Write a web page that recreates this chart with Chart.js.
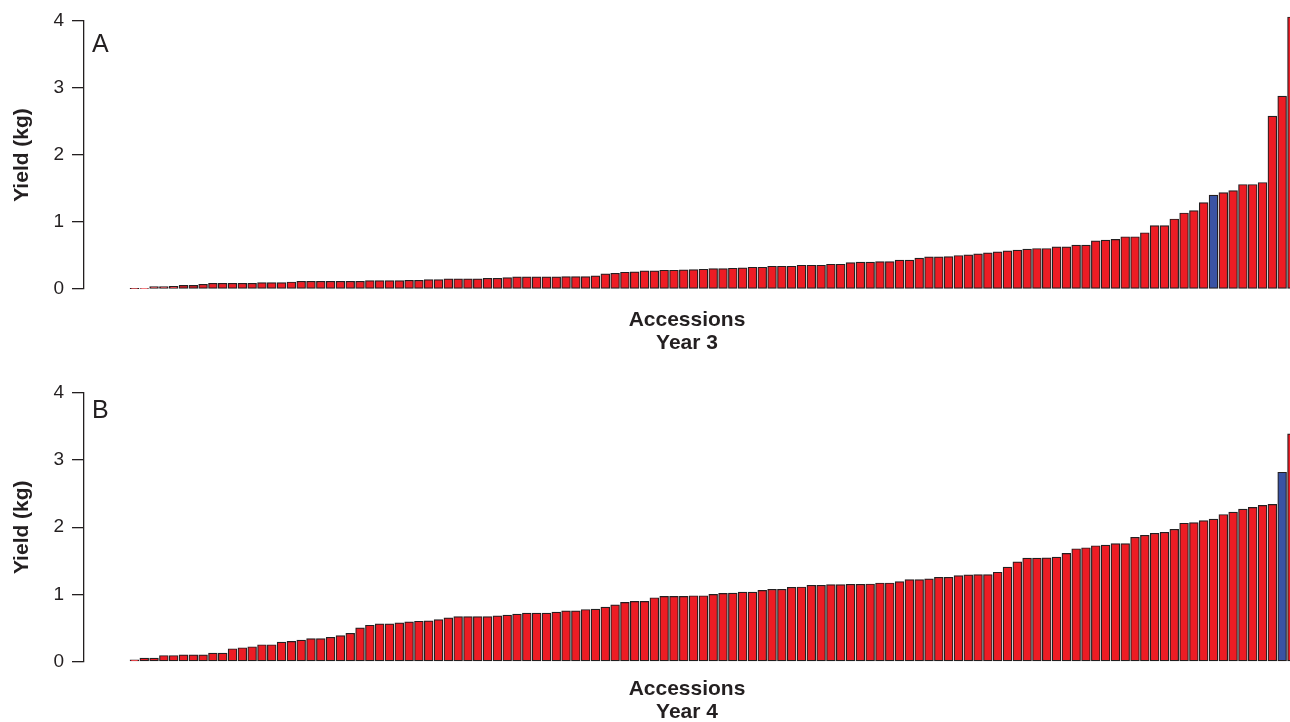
<!DOCTYPE html>
<html>
<head>
<meta charset="utf-8">
<script src="https://cdn.jsdelivr.net/npm/chart.js@4.4.1/dist/chart.umd.min.js"></script>
<style>
    html, body { margin: 0; padding: 0; background: #fff; overflow: hidden; }
    canvas { display: block; }
</style>
</head>
<body>
<canvas id="chartYear3" width="1290" height="361"></canvas>
<canvas id="chartYear4" width="1290" height="361"></canvas>
<script>
// Yield per accession, sorted ascending (kg)
const yieldYear3 = [
    0.005, 0.01, 0.035, 0.035, 0.04, 0.055, 0.055, 0.07, 0.085, 0.085,
    0.085, 0.085, 0.085, 0.095, 0.095, 0.095, 0.105, 0.115, 0.115, 0.115,
    0.115, 0.115, 0.115, 0.115, 0.125, 0.125, 0.125, 0.125, 0.13, 0.13,
    0.14, 0.14, 0.15, 0.15, 0.15, 0.15, 0.16, 0.16, 0.17, 0.18,
    0.18, 0.18, 0.18, 0.18, 0.185, 0.185, 0.185, 0.195, 0.225, 0.235,
    0.25, 0.255, 0.27, 0.27, 0.28, 0.28, 0.285, 0.29, 0.295, 0.305,
    0.305, 0.31, 0.315, 0.325, 0.325, 0.34, 0.34, 0.34, 0.355, 0.355,
    0.355, 0.37, 0.37, 0.395, 0.40, 0.40, 0.41, 0.41, 0.43, 0.43,
    0.46, 0.48, 0.48, 0.485, 0.50, 0.51, 0.525, 0.54, 0.555, 0.57,
    0.58, 0.595, 0.605, 0.605, 0.63, 0.63, 0.655, 0.655, 0.72, 0.73,
    0.74, 0.78, 0.78, 0.84, 0.945, 0.945, 1.045, 1.135, 1.17, 1.29,
    1.40, 1.44, 1.47, 1.56, 1.56, 1.59, 2.58, 2.88, 4.06
];
const yieldYear4 = [
    0.025, 0.05, 0.05, 0.09, 0.09, 0.10, 0.10, 0.10, 0.125, 0.125,
    0.19, 0.205, 0.22, 0.25, 0.25, 0.29, 0.30, 0.32, 0.34, 0.34,
    0.36, 0.385, 0.42, 0.50, 0.54, 0.56, 0.56, 0.575, 0.59, 0.60,
    0.605, 0.625, 0.65, 0.67, 0.67, 0.67, 0.67, 0.68, 0.69, 0.705,
    0.72, 0.72, 0.72, 0.735, 0.755, 0.755, 0.775, 0.78, 0.81, 0.845,
    0.88, 0.895, 0.895, 0.95, 0.97, 0.97, 0.97, 0.98, 0.98, 1.00,
    1.015, 1.02, 1.035, 1.035, 1.06, 1.075, 1.075, 1.105, 1.11, 1.135,
    1.135, 1.145, 1.145, 1.15, 1.15, 1.155, 1.17, 1.17, 1.19, 1.22,
    1.22, 1.23, 1.255, 1.255, 1.28, 1.29, 1.295, 1.295, 1.33, 1.405,
    1.485, 1.54, 1.54, 1.545, 1.555, 1.61, 1.68, 1.695, 1.725, 1.735,
    1.755, 1.755, 1.85, 1.88, 1.91, 1.925, 1.97, 2.06, 2.07, 2.10,
    2.12, 2.19, 2.225, 2.27, 2.295, 2.325, 2.34, 2.82, 3.39
];
// position of the highlighted (blue) accession in each year
const highlightYear3 = 110;
const highlightYear4 = 117;
const yTicks = [0, 1, 2, 3, 4];
const accessions = yieldYear3.map((v, i) => i);

const INK = '#231F20';
const RED = '#ED1C24';
const BLUE = '#3A53A4';
const FONT = '"Liberation Sans", Arial, Helvetica, sans-serif';

// Panel letter in the top left corner
const panelLabel = {
    id: 'panelLabel',
    afterDraw(chart, args, opts) {
        const ctx = chart.ctx;
        ctx.save();
        ctx.font = '25px ' + FONT;
        ctx.fillStyle = INK;
        ctx.textBaseline = 'alphabetic';
        ctx.fillText(opts.text, opts.x, opts.y);
        ctx.restore();
    }
};

function makeChart(id, values, highlight, yearText, letter) {
    const points = accessions.map(i => ({ x: i, y: values[i] }));
    const colors = accessions.map(i => i === highlight ? BLUE : RED);
    new Chart(document.getElementById(id), {
        type: 'bar',
        data: {
            datasets: [{
                data: points,
                backgroundColor: colors,
                borderColor: INK,
                borderWidth: 1.2,
                borderSkipped: false,
                barThickness: 8.8,
                clip: false
            }]
        },
        options: {
            responsive: false,
            animation: false,
            devicePixelRatio: 1,
            layout: { padding: letter.pad },
            plugins: {
                legend: { display: false },
                tooltip: { enabled: false },
                panelLabel: letter
            },
            scales: {
                x: {
                    type: 'linear',
                    offset: false,
                    min: -5.14,
                    max: 117.8,
                    grid: { display: false, drawTicks: false },
                    border: { display: false },
                    ticks: { display: false },
                    title: {
                        display: true,
                        text: ['Accessions', yearText],
                        color: INK,
                        font: { family: FONT, size: 21, weight: 'bold', lineHeight: '23px' },
                        padding: { top: letter.titlePad, bottom: -2 }
                    }
                },
                y: {
                    min: 0,
                    max: 4,
                    afterFit: s => { s.width = 84; },
                    afterBuildTicks: s => { s.ticks = yTicks.map(v => ({ value: v })); },
                    grid: {
                        drawOnChartArea: false,
                        drawTicks: true,
                        tickLength: 12,
                        color: INK,
                        lineWidth: 1.3
                    },
                    border: { display: true, color: INK, width: 1.3 },
                    ticks: {
                        color: INK,
                        padding: 8,
                        font: { family: FONT, size: 19 }
                    },
                    title: {
                        display: true,
                        text: 'Yield (kg)',
                        color: INK,
                        font: { family: FONT, size: 21, weight: 'bold' },
                        padding: { top: 10, bottom: 0 }
                    }
                }
            }
        },
        plugins: [panelLabel]
    });
}

makeChart('chartYear3', yieldYear3, highlightYear3, 'Year 3',
    { text: 'A', x: 92, y: 51.5, pad: { top: 21, bottom: 8.5, left: 0, right: 0 }, titlePad: 19.5 });
makeChart('chartYear4', yieldYear4, highlightYear4, 'Year 4',
    { text: 'B', x: 92, y: 57, pad: { top: 32, bottom: 0, left: 0, right: 0 }, titlePad: 16.5 });
</script>
</body>
</html>
